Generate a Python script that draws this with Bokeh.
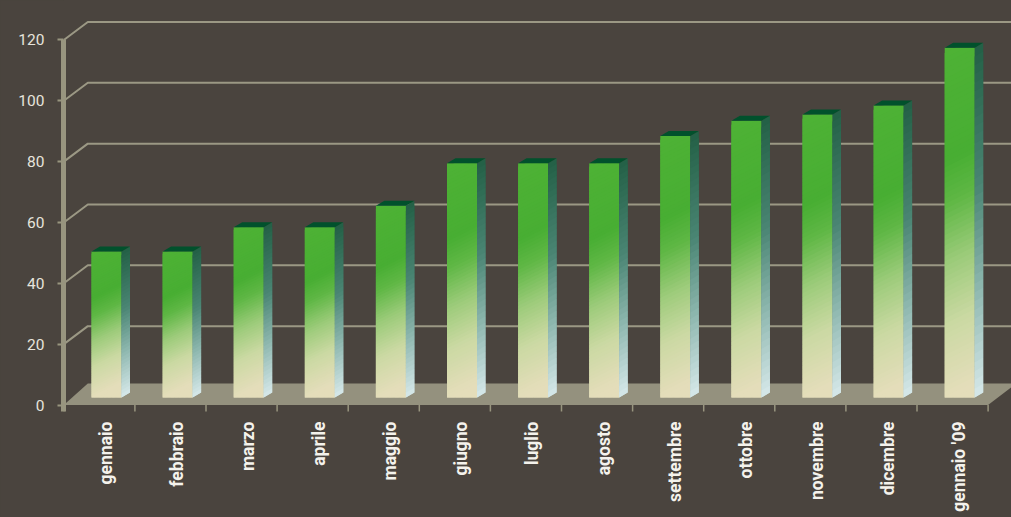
import numpy as np
from bokeh.plotting import figure
from bokeh.models import Range1d, FixedTicker, ColumnDataSource
from bokeh.embed import file_html
from bokeh.resources import INLINE
from bokeh.core.properties import value

# ---------------- data ----------------
months = ["gennaio", "febbraio", "marzo", "aprile", "maggio", "giugno", "luglio",
          "agosto", "settembre", "ottobre", "novembre", "dicembre", "gennaio '09"]
values = [48, 48, 56, 56, 63, 77, 77, 77, 86, 91, 93, 96, 115]
y_ticks = [0, 20, 40, 60, 80, 100, 120]

# ---------------- style / geometry ----------------
BG = "#4a443e"
AXIS_C = "#98957f"
GRID_C = "#9b9884"
FLOOR_C = "#94917e"
TOP_C = "#01512c"
W, H = 1011, 517
LEFT = 63
PX_X = 71.1    # pixels per category
PX_Y = 3.042   # pixels per value unit
X0_REF, Y0_REF = 63.3, 404.5

x_start = (LEFT - X0_REF) / PX_X
x_end = (W - X0_REF) / PX_X
y_end = Y0_REF / PX_Y
y_start = (Y0_REF - H) / PX_Y

def ux(px):
    return px / PX_X

def uy(px):
    return px / PX_Y

def hex2rgb(h):
    h = h.lstrip("#")
    return [int(h[i:i + 2], 16) for i in (0, 2, 4)]

def grad(stops, t):
    t = min(max(t, 0.0), 1.0)
    for (t0, c0), (t1, c1) in zip(stops[:-1], stops[1:]):
        if t <= t1:
            f = 0 if t1 == t0 else (t - t0) / (t1 - t0)
            a, b = hex2rgb(c0), hex2rgb(c1)
            return "#%02x%02x%02x" % tuple(int(round(a[k] + (b[k] - a[k]) * f)) for k in range(3))
    return stops[-1][1]

FRONT_STOPS = [(0.0, "#4eb235"), (0.33, "#48ae33"), (0.45, "#5fb745"),
               (0.62, "#9ccb7a"), (0.8, "#cbd9a3"), (1.0, "#e4ddba")]
SIDE_STOPS = [(0.0, "#236046"), (0.4, "#4a8573"), (0.7, "#8fb8b0"), (1.0, "#d6e8e9")]

p = figure(width=W, height=H, x_range=Range1d(x_start, x_end), y_range=Range1d(y_start, y_end),
           output_backend="svg", toolbar_location=None, x_axis_location=None,
           min_border_left=LEFT, min_border_right=0, min_border_top=0, min_border_bottom=0,
           background_fill_color=BG, border_fill_color=BG, outline_line_color=None)
p.grid.visible = False

# back-wall grid lines
DXg, DYg = ux(24), uy(18)
gx = [[0, DXg, x_end + 1] for v in y_ticks[1:]]
gy = [[v, v + DYg, v + DYg] for v in y_ticks[1:]]
p.multi_line(gx, gy, line_color=GRID_C, line_width=2)

# floor
n = len(months)
p.patch([0, n, n + ux(28), ux(24)], [0, 0, uy(21.5), uy(21.5)], fill_color=FLOOR_C, line_color=None)

# bars
base = uy(Y0_REF - 397)
bw = ux(30)
sdx, sdy = ux(8.5), uy(5)
slant = uy(15)
xs_all, ys_all, cs_all = [], [], []
NF, NS = 70, 40
us = [i / 8 for i in range(9)]
for i, v in enumerate(values):
    xl = i + ux(27.7)
    xr = xl + bw
    top = base + v
    h = v
    gmax = 1 + slant / h
    for j in range(NF):
        g0 = j / NF * gmax
        g1 = min((j + 2.0) / NF * gmax, gmax)
        col = grad(FRONT_STOPS, ((j + 0.5) / NF * gmax))
        pts_x, pts_y = [], []
        for u in us:
            pts_x.append(xl + u * bw)
            pts_y.append(min(max(top - g0 * h + slant * u, base), top))
        for u in reversed(us):
            pts_x.append(xl + u * bw)
            pts_y.append(min(max(top - g1 * h + slant * u, base), top))
        xs_all.append(pts_x); ys_all.append(pts_y); cs_all.append(col)
    for k in range(NS):
        ya = top - k / NS * h
        yb = max(top - (k + 2.0) / NS * h, base)
        col = grad(SIDE_STOPS, (k + 0.5) / NS)
        xs_all.append([xr, xr + sdx, xr + sdx, xr])
        ys_all.append([ya, ya + sdy, yb + sdy, yb])
        cs_all.append(col)
    xs_all.append([xl, xr, xr + sdx, xl + sdx])
    ys_all.append([top, top, top + sdy, top + sdy])
    cs_all.append(TOP_C)

src = ColumnDataSource(dict(xs=xs_all, ys=ys_all, c=cs_all))
p.patches("xs", "ys", fill_color="c", line_color=None, source=src)

# category tick marks
tk = list(range(n + 1))
p.segment(x0=tk, y0=[0] * len(tk), x1=tk, y1=[-uy(6.5)] * len(tk), line_color=AXIS_C, line_width=1.5)

# category labels
p.text(x=[i + ux(42) for i in range(n)], y=[uy(Y0_REF - 421)] * n, text=months,
       angle=np.pi / 2, text_align="right", text_baseline="middle",
       text_font=value("Roboto"), text_font_style="bold", text_font_size="17.5px",
       text_color="#f4f2ec")

# y axis
ax = p.yaxis[0]
ax.ticker = FixedTicker(ticks=y_ticks)
ax.bounds = (-uy(6.5), 120)
ax.axis_line_color = AXIS_C
ax.axis_line_width = 5
ax.major_tick_line_color = AXIS_C
ax.major_tick_line_width = 2
ax.major_tick_out = 6
ax.major_tick_in = 0
ax.minor_tick_line_color = None
ax.major_label_standoff = 13
ax.major_label_text_color = "#e7e4dc"
ax.major_label_text_font = "Roboto"
ax.major_label_text_font_size = "15.5px"

html = file_html(p, INLINE)
html = html.replace("</head>", "<style>html,body{background:%s;}</style></head>" % BG, 1)
open("out.html", "w").write(html)
